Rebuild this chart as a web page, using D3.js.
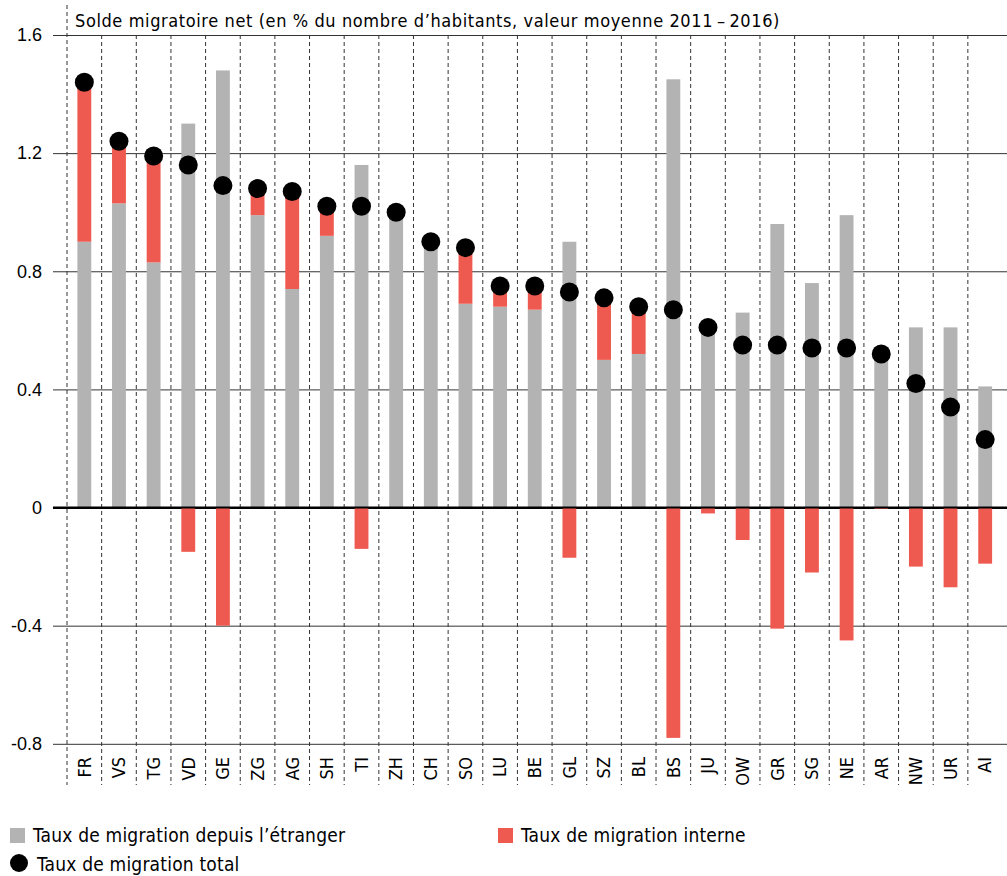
<!DOCTYPE html>
<html>
<head>
<meta charset="utf-8">
<script src="https://cdn.jsdelivr.net/npm/d3@7"></script>
<style>
  body { margin: 0; background: #fff; }
  svg { display: block; font-family: "DejaVu Sans Condensed", "Liberation Sans Narrow", "Roboto", sans-serif; }
</style>
</head>
<body>
<svg id="chart" width="1007" height="876"></svg>
<script>
// Cantons, sorted by total migration rate
const cantons = ['FR', 'VS', 'TG', 'VD', 'GE', 'ZG', 'AG', 'SH', 'TI', 'ZH', 'CH', 'SO', 'LU', 'BE',
    'GL', 'SZ', 'BL', 'BS', 'JU', 'OW', 'GR', 'SG', 'NE', 'AR', 'NW', 'UR', 'AI'];
// Taux de migration depuis l'étranger
const foreign = [0.90, 1.03, 0.83, 1.30, 1.48, 0.99, 0.74, 0.92, 1.16, 1.00, 0.90, 0.69, 0.68, 0.67,
    0.90, 0.50, 0.52, 1.45, 0.63, 0.66, 0.96, 0.76, 0.99, 0.52, 0.61, 0.61, 0.41];
// Taux de migration interne
const internal = [0.54, 0.21, 0.36, -0.15, -0.40, 0.09, 0.33, 0.10, -0.14, 0.00, 0.00, 0.19, 0.07, 0.08,
    -0.17, 0.21, 0.16, -0.78, -0.02, -0.11, -0.41, -0.22, -0.45, -0.005, -0.20, -0.27, -0.19];
// Taux de migration total
const total = [1.44, 1.24, 1.19, 1.16, 1.09, 1.08, 1.07, 1.02, 1.02, 1.00, 0.90, 0.88, 0.75, 0.75,
    0.73, 0.71, 0.68, 0.67, 0.61, 0.55, 0.55, 0.54, 0.54, 0.52, 0.42, 0.34, 0.23];
const yTicks = [-0.8, -0.4, 0, 0.4, 0.8, 1.2, 1.6];

const title = 'Solde migratoire net (en % du nombre d\u2019habitants, valeur moyenne 2011\u2009\u2013\u20092016)';

const grey = '#b3b3b3';
const red = '#ee5a4f';

const svg = d3.select('#chart');

// Scales
const x = d3.scaleBand()
    .domain(cantons)
    .range([67, 1002.5])
    .paddingInner(0.6)
    .paddingOuter(0.3);
const y = d3.scaleLinear().domain([-0.8, 1.6]).range([743.8, 35]);

const data = cantons.map((c, i) => ({
    canton: c, foreign: foreign[i], internal: internal[i], total: total[i]
}));

// Horizontal gridlines + y labels
const yAxis = svg.append('g')
    .attr('class', 'y axis')
    .attr('transform', 'translate(1007,0)')
    .call(d3.axisLeft(y).tickValues(yTicks).tickSize(954));
yAxis.select('.domain').remove();
yAxis.selectAll('.tick line')
    .attr('stroke', d => d === 0 ? '#000' : '#333')
    .attr('stroke-width', d => d === 0 ? 2 : 1);
yAxis.selectAll('.tick text')
    .attr('x', -965)
    .attr('fill', '#000')
    .style('font-size', '18px')
    .text(d => d === 0 ? '0' : d.toFixed(1));

// Vertical dashed separators
const step = x.step();
const x0 = x.range()[0];
svg.append('g')
    .selectAll('line')
    .data(d3.range(cantons.length))
    .join('line')
    .attr('x1', i => x0 + i * step)
    .attr('x2', i => x0 + i * step)
    .attr('y1', i => i === 0 ? 5 : y(1.6))
    .attr('y2', 785)
    .attr('stroke', '#333')
    .attr('stroke-width', 1)
    .attr('stroke-dasharray', '4,3');

// Foreign migration bars
svg.append('g')
    .selectAll('rect')
    .data(data)
    .join('rect')
    .attr('x', d => x(d.canton))
    .attr('width', x.bandwidth())
    .attr('y', d => y(d.foreign))
    .attr('height', d => y(0) - y(d.foreign))
    .attr('fill', grey);

// Internal migration bars: stacked on top when positive, below zero when negative
svg.append('g')
    .selectAll('rect')
    .data(data.filter(d => d.internal !== 0))
    .join('rect')
    .attr('x', d => x(d.canton))
    .attr('width', x.bandwidth())
    .attr('y', d => d.internal > 0 ? y(d.foreign + d.internal) : y(0))
    .attr('height', d => d.internal > 0 ? y(d.foreign) - y(d.foreign + d.internal) : y(d.internal) - y(0))
    .attr('fill', red);

// Redraw zero line over the bars
svg.append('line')
    .attr('x1', 53).attr('x2', 1007)
    .attr('y1', y(0)).attr('y2', y(0))
    .attr('stroke', '#000').attr('stroke-width', 2);

// Total migration dots
svg.append('g')
    .selectAll('circle')
    .data(data)
    .join('circle')
    .attr('cx', d => x(d.canton) + x.bandwidth() / 2)
    .attr('cy', d => y(d.total))
    .attr('r', 9.5)
    .attr('fill', '#000');

// Canton labels
svg.append('g')
    .selectAll('text')
    .data(cantons)
    .join('text')
    .attr('transform', d => `translate(${x(d) + x.bandwidth() / 2},757) rotate(-90)`)
    .attr('text-anchor', 'end')
    .attr('dy', '0.35em')
    .style('font-size', '18px')
    .text(d => d);

// Title
svg.append('text')
    .attr('x', 75)
    .attr('y', 27)
    .style('font-size', '18px')
    .style('letter-spacing', '0.6px')
    .text(title);

// Legend
const legend = svg.append('g').style('font-size', '19px').style('letter-spacing', '0.2px');
legend.append('rect').attr('x', 10).attr('y', 828).attr('width', 15).attr('height', 15).attr('fill', grey);
legend.append('text').attr('x', 33).attr('y', 842).text('Taux de migration depuis l\u2019\u00e9tranger');
legend.append('rect').attr('x', 498).attr('y', 828).attr('width', 15).attr('height', 15).attr('fill', red);
legend.append('text').attr('x', 521).attr('y', 842).text('Taux de migration interne');
legend.append('circle').attr('cx', 19).attr('cy', 863).attr('r', 9).attr('fill', '#000');
legend.append('text').attr('x', 37).attr('y', 871).text('Taux de migration total');
</script>
</body>
</html>
